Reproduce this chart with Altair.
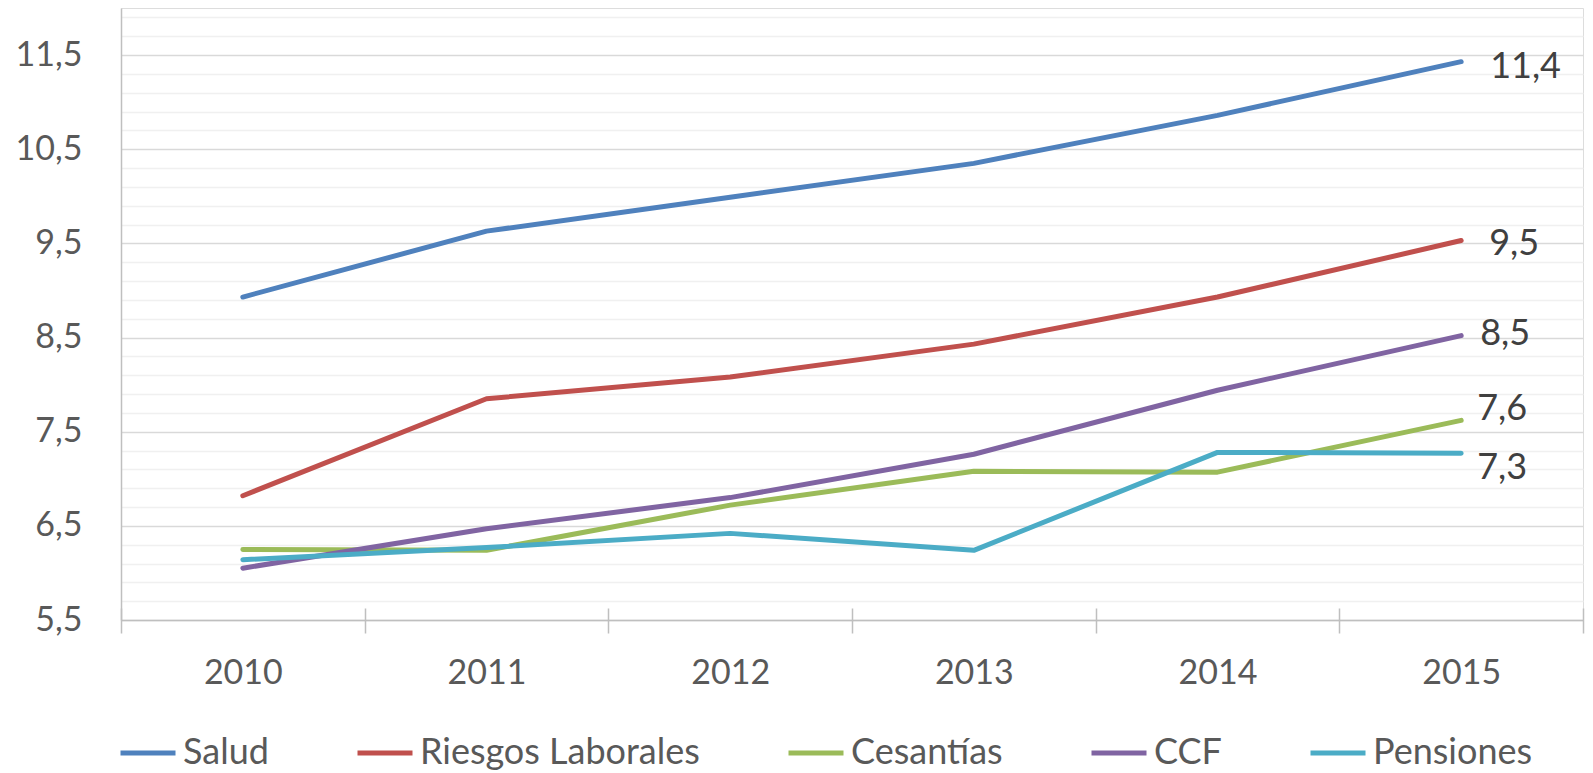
import altair as alt
import pandas as pd

years = [2010, 2011, 2012, 2013, 2014, 2015]
series_names = ["Salud", "Riesgos Laborales", "Cesantías", "CCF", "Pensiones"]
salud = [8.93, 9.63, 9.99, 10.35, 10.86, 11.43]
riesgos = [6.82, 7.85, 8.08, 8.43, 8.93, 9.53]
cesantias = [6.25, 6.24, 6.72, 7.08, 7.07, 7.62]
ccf = [6.05, 6.47, 6.80, 7.26, 7.94, 8.52]
pensiones = [6.14, 6.27, 6.42, 6.24, 7.28, 7.27]
colors = ["#4f81bd", "#c0504d", "#9bbb59", "#8064a2", "#4bacc6"]

y_domain = [5.5, 12.0]
y_ticks = [round(5.5 + 0.2 * i, 1) for i in range(33)]
x_boundaries = [y - 0.5 for y in years] + [years[-1] + 0.5]

rows = []
for name, vals in zip(series_names, [salud, riesgos, cesantias, ccf, pensiones]):
    for yr, v in zip(years, vals):
        rows.append({"year": yr, "series": name, "value": v})
df = pd.DataFrame(rows)

FONT = "Lato"
xscale = alt.Scale(domain=[2009.5, 2015.5], nice=False, zero=False)
yscale = alt.Scale(domain=y_domain, nice=False, zero=False)

major_test = "abs(datum.value - round(datum.value - 0.5) - 0.5) < 0.01"

lines = alt.Chart(df).mark_line(strokeWidth=5, strokeCap="round", strokeJoin="round").encode(
    x=alt.X("year:Q", scale=xscale, axis=alt.Axis(
        values=years, format="d", ticks=False, grid=False, orient="bottom",
        domainColor="#bfbfbf", domainWidth=1.5, labelFontSize=34, labelFont=FONT,
        labelColor="#595959", labelPadding=36, title=None)),
    y=alt.Y("value:Q", scale=yscale, axis=alt.Axis(
        values=y_ticks, ticks=False, grid=True, orient="left",
        domainColor="#bfbfbf", domainWidth=1.5,
        gridColor={"condition": {"test": major_test, "value": "#d9d9d9"}, "value": "#f0f0f0"},
        gridWidth=1.4,
        labelExpr=f"({major_test}) ? replace(format(datum.value, '.1f'), '.', ',') : ''",
        labelFontSize=34, labelFont=FONT, labelColor="#595959", labelPadding=39, title=None)),
    color=alt.Color("series:N", scale=alt.Scale(domain=series_names, range=colors),
                    sort=series_names,
                    legend=alt.Legend(orient="none", legendX=-3, legendY=715, direction="horizontal",
                                      symbolType="stroke", symbolSize=3025, symbolStrokeWidth=5,
                                      labelFontSize=36, labelFont=FONT, labelColor="#595959",
                                      labelLimit=1000, columnPadding=78, labelOffset=5, title=None)),
    order="year:Q",
)

ticks_layer = alt.Chart(df).mark_point(opacity=0).encode(
    x=alt.X("year:Q", scale=xscale, axis=alt.Axis(
        values=x_boundaries, labels=False, domain=False, grid=False, ticks=True,
        tickSize=25, tickColor="#bfbfbf", tickWidth=1.5, offset=-12, orient="bottom", title=None)),
    y=alt.Y("value:Q", scale=yscale, axis=None),
)

offsets = {
    "Salud": (29, 5),
    "Riesgos Laborales": (28, 3),
    "Cesantías": (16, -11),
    "CCF": (19, -2),
    "Pensiones": (16, 15),
}

texts = []
for name in series_names:
    dx, dy = offsets[name]
    t = alt.Chart(df).transform_filter(
        (alt.datum.series == name) & (alt.datum.year == years[-1])
    ).transform_calculate(
        lab="replace(format(datum.value, '.1f'), '.', ',')"
    ).mark_text(align="left", baseline="middle", dx=dx, dy=dy, fontSize=36, font=FONT,
                color="#404040").encode(
        x=alt.X("year:Q", scale=xscale, axis=None),
        y=alt.Y("value:Q", scale=yscale, axis=None),
        text="lab:N",
    )
    texts.append(t)

chart = alt.layer(lines, ticks_layer, *texts).resolve_axis(
    x="independent", y="independent"
).properties(
    width=1462, height=612,
    padding={"left": 113, "top": 0, "right": 2, "bottom": 158},
    autosize=alt.AutoSizeParams(type="none"),
).configure_view(strokeWidth=0).configure(background="white")

chart.save("out.html", embed_options={"renderer": "svg", "actions": False})
